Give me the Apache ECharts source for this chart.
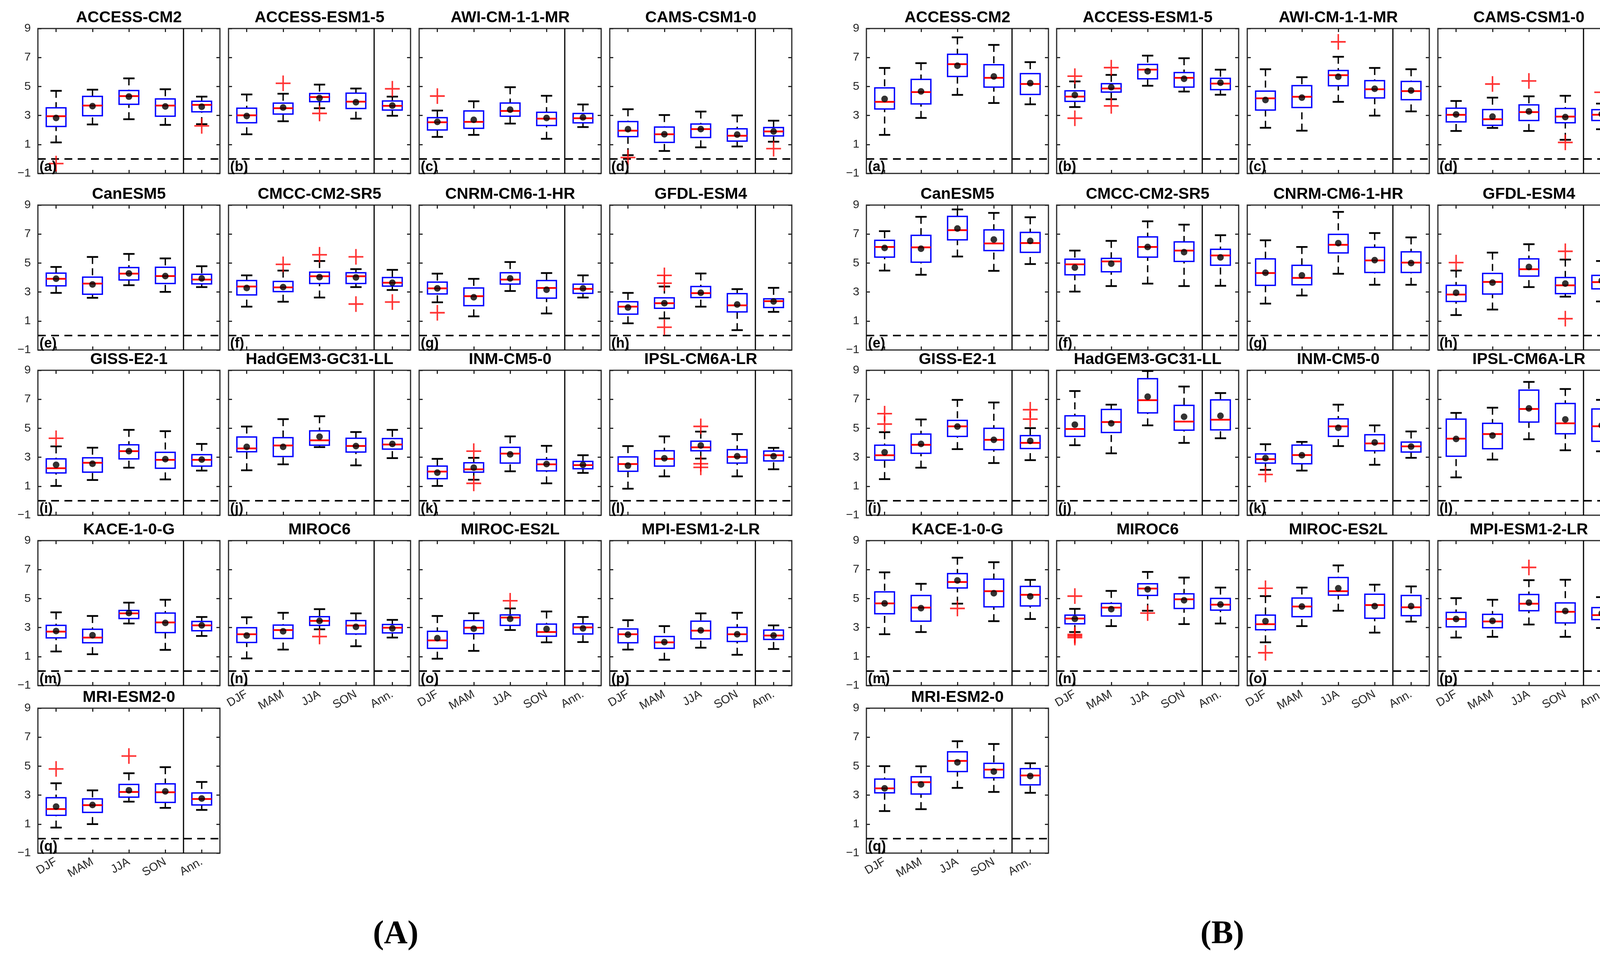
<!DOCTYPE html>
<html><head><meta charset="utf-8">
<script src="https://cdn.jsdelivr.net/npm/echarts@6/dist/echarts.min.js"></script>
<style>html,body{margin:0;padding:0;background:#fff}#chart{width:4175px;height:2450px}</style>
</head><body><div id="chart"></div>
<script>
const seasons = ['DJF', 'MAM', 'JJA', 'SON', 'Ann.'];
const models = ['ACCESS-CM2', 'ACCESS-ESM1-5', 'AWI-CM-1-1-MR', 'CAMS-CSM1-0', 'CanESM5', 'CMCC-CM2-SR5',
  'CNRM-CM6-1-HR', 'GFDL-ESM4', 'GISS-E2-1', 'HadGEM3-GC31-LL', 'INM-CM5-0', 'IPSL-CM6A-LR',
  'KACE-1-0-G', 'MIROC6', 'MIROC-ES2L', 'MPI-ESM1-2-LR', 'MRI-ESM2-0'];
const letters = ['a','b','c','d','e','f','g','h','i','j','k','l','m','n','o','p','q'];
const panelLabels = ['(A)', '(B)'];
const yMin = -1, yMax = 9, yStep = 2;

// ---------- Panel A ----------
const lowA = [[1.14,2.38,2.74,2.35,2.4],[1.7,2.6,3.5,2.78,2.98],[1.52,1.66,2.44,1.39,2.2],[0.26,0.55,0.8,0.86,1.19],
  [2.94,2.6,3.47,3.01,3.34],[1.99,2.33,2.62,3.34,3.14],[2.29,1.32,3.07,1.52,2.62],[0.84,1.18,1.99,0.37,1.63],
  [1.02,1.43,2.28,1.47,2.08],[2.1,2.51,3.7,2.44,2.94],[1.02,1.45,2.03,1.2,1.92],[0.83,1.68,2.91,1.68,2.17],
  [1.35,1.16,3.28,1.46,2.42],[0.87,1.48,2.88,1.71,2.31],[0.85,1.39,2.83,1.98,2.0],[1.48,0.78,1.61,1.12,1.52],
  [0.76,1.0,2.55,2.12,1.98]];
const q1A = [[2.24,2.98,3.77,2.95,3.25],[2.5,3.1,3.95,3.48,3.37],[2.0,2.11,2.95,2.31,2.49],[1.54,1.14,1.48,1.23,1.59],
  [3.43,2.85,3.83,3.59,3.56],[2.8,3.03,3.59,3.59,3.41],[2.87,2.06,3.55,2.58,2.91],[1.47,1.88,2.62,1.63,1.93],
  [1.92,1.97,2.89,2.24,2.39],[3.38,3.05,3.83,3.36,3.56],[1.52,1.97,2.6,2.06,2.21],[2.03,2.39,3.45,2.6,2.75],
  [2.29,1.95,3.62,2.65,2.78],[1.97,2.25,3.15,2.56,2.63],[1.57,2.58,3.15,2.4,2.56],[1.95,1.57,2.22,2.04,2.18],
  [1.61,1.81,2.86,2.5,2.32]];
const medA = [[2.95,3.68,4.34,3.68,3.73],[3.01,3.5,4.27,3.95,3.66],[2.53,2.56,3.31,2.78,2.81],[1.95,1.7,2.06,1.6,1.9],
  [3.91,3.58,4.27,4.1,3.86],[3.38,3.32,4.09,4.09,3.64],[3.25,2.71,3.86,3.28,3.22],[1.99,2.23,2.92,2.08,2.37],
  [2.24,2.62,3.42,2.82,2.82],[3.61,3.81,4.17,3.78,3.88],[2.01,2.17,3.25,2.51,2.46],[2.53,2.89,3.68,3.02,3.14],
  [2.72,2.31,3.98,3.35,3.15],[2.54,2.83,3.46,3.14,2.99],[2.11,2.99,3.69,2.69,3.01],[2.54,1.98,2.79,2.54,2.45],
  [2.04,2.31,3.22,3.2,2.73]];
const q3A = [[3.53,4.32,4.72,4.14,3.98],[3.5,3.85,4.51,4.54,4.0],[2.85,3.31,3.86,3.22,3.14],[2.58,2.2,2.41,2.08,2.17],
  [4.3,4.03,4.69,4.71,4.22],[3.79,3.73,4.37,4.33,4.0],[3.68,3.28,4.33,3.79,3.54],[2.33,2.6,3.38,2.89,2.53],
  [2.89,2.96,3.86,3.34,3.18],[4.4,4.35,4.82,4.31,4.29],[2.39,2.62,3.68,2.85,2.71],[3.02,3.45,4.11,3.52,3.43],
  [3.15,2.88,4.18,4.0,3.42],[2.99,3.17,3.75,3.48,3.21],[2.74,3.48,3.87,3.24,3.26],[2.9,2.38,3.44,3.01,2.83],
  [2.82,2.74,3.74,3.78,3.15]];
const highA = [[4.7,4.78,5.56,4.81,4.3],[4.45,4.5,5.13,4.86,4.3],[3.34,3.98,4.95,4.36,3.76],[3.43,3.03,3.27,3.0,2.64],
  [4.73,5.42,5.63,5.32,4.78],[4.15,4.48,5.14,4.58,4.53],[4.27,3.91,5.07,4.31,4.15],[2.94,3.38,4.28,3.2,3.29],
  [3.75,3.66,4.89,4.8,3.92],[5.12,5.63,5.83,4.74,4.89],[2.89,2.96,4.44,3.79,3.14],[3.77,4.44,4.77,4.6,3.65],
  [4.05,3.8,4.72,4.92,3.73],[3.71,4.02,4.27,3.98,3.53],[3.8,3.99,4.32,4.11,3.73],[3.51,3.1,3.98,4.02,3.15],
  [3.82,3.33,4.51,4.93,3.91]];
const meanA = [[2.83,3.64,4.3,3.62,3.6],[2.96,3.55,4.2,3.91,3.68],[2.56,2.7,3.4,2.83,2.87],[2.05,1.7,2.06,1.68,1.9],
  [3.92,3.52,4.28,4.1,3.94],[3.28,3.34,4.03,4.01,3.64],[3.25,2.64,3.94,3.16,3.25],[1.93,2.23,2.95,2.14,2.35],
  [2.48,2.55,3.42,2.87,2.84],[3.72,3.72,4.42,3.77,3.92],[1.94,2.28,3.2,2.53,2.48],[2.42,2.93,3.81,3.07,3.07],
  [2.76,2.47,4.0,3.32,3.15],[2.45,2.74,3.46,3.05,2.94],[2.27,2.92,3.6,2.9,2.94],[2.51,2.0,2.81,2.54,2.45],
  [2.21,2.32,3.33,3.26,2.77]];
// [model index, season index, value]
const outliersA = [[0,0,-0.32],[0,4,2.28],[1,1,5.22],[1,2,3.14],[1,4,4.84],[2,0,4.34],[3,0,0.1],[3,4,0.71],
  [5,1,4.91],[5,2,5.57],[5,3,5.43],[5,3,2.17],[5,4,2.31],[6,0,1.57],[7,1,4.15],[7,1,3.61],[7,1,0.57],
  [8,0,4.31],[10,1,3.42],[10,1,1.2],[11,2,5.13],[11,2,2.55],[11,2,2.3],[13,2,2.38],[14,2,4.85],
  [16,0,4.81],[16,2,5.7]];

// ---------- Panel B ----------
const lowB = [[1.66,2.83,4.42,3.86,3.77],[3.58,4.12,5.05,4.65,4.43],[2.15,1.95,3.94,2.99,3.28],[1.93,2.14,1.93,1.32,2.05],
  [4.48,4.19,5.45,4.46,4.93],[3.03,3.41,3.58,3.41,3.43],[2.2,2.76,4.26,3.5,3.5],[1.41,1.79,3.34,2.68,2.35],
  [1.49,2.28,3.56,2.6,2.8],[3.83,3.27,5.2,3.99,4.31],[2.13,2.08,3.77,2.48,2.96],[1.61,2.84,4.24,3.48,3.41],
  [2.54,2.69,4.65,3.44,3.59],[2.69,3.1,4.16,3.24,3.28],[1.98,3.1,4.16,2.65,3.41],[2.31,2.36,3.21,2.36,2.97],
  [1.9,2.03,3.5,3.22,3.16]];
const q1B = [[3.45,3.8,5.69,4.96,4.45],[3.97,4.61,5.53,4.96,4.78],[3.37,3.55,5.05,4.21,4.09],[2.56,2.32,2.65,2.5,2.65],
  [5.41,5.06,6.6,5.86,5.74],[4.19,4.4,5.41,5.11,4.85],[3.46,3.5,5.7,4.35,4.35],[2.35,2.86,4.1,2.89,3.22],
  [2.8,3.27,4.44,3.52,3.6],[4.44,4.71,6.06,4.87,4.89],[2.6,2.55,4.44,3.45,3.36],[3.07,3.59,5.43,4.62,4.1],
  [3.95,3.44,5.73,4.43,4.49],[3.26,3.8,5.22,4.32,4.2],[2.85,3.75,5.24,3.64,3.82],[3.05,2.99,4.16,3.32,3.55],
  [3.16,3.08,4.63,4.2,3.71]];
const medB = [[3.94,4.61,6.54,5.6,5.17],[4.3,4.86,6.16,5.6,5.2],[4.18,4.29,5.78,4.81,4.68],[3.04,2.74,3.23,2.92,3.05],
  [6.11,6.08,7.27,6.35,6.38],[4.91,5.11,6.11,5.86,5.52],[4.31,3.97,6.26,5.18,5.03],[2.83,3.7,4.57,3.46,3.68],
  [3.14,3.86,5.13,4.2,3.99],[4.95,5.43,6.94,5.46,5.59],[2.87,3.15,5.13,3.95,3.75],[4.28,4.6,6.33,5.34,5.14],
  [4.67,4.38,6.14,5.51,5.26],[3.62,4.38,5.69,4.95,4.58],[3.23,4.45,5.51,4.55,4.4],[3.59,3.42,4.65,4.09,3.86],
  [3.47,3.89,5.36,4.76,4.36]];
const q3B = [[4.9,5.49,7.22,6.5,5.89],[4.7,5.19,6.52,5.96,5.56],[4.68,5.06,6.1,5.4,5.35],[3.5,3.41,3.73,3.48,3.4],
  [6.57,6.91,8.22,7.29,7.11],[5.27,5.32,6.8,6.46,5.95],[5.29,4.84,6.98,6.08,5.77],[3.46,4.28,5.29,4.0,4.15],
  [3.83,4.6,5.54,5.0,4.49],[5.86,6.3,8.42,6.58,6.96],[3.23,3.84,5.65,4.55,4.05],[5.63,5.34,7.63,6.71,6.33],
  [5.46,5.21,6.72,6.34,5.84],[3.86,4.67,6.02,5.33,5.01],[3.86,5.04,6.45,5.3,5.21],[4.05,3.91,5.28,4.7,4.38],
  [4.11,4.27,5.99,5.19,4.83]];
const highB = [[6.28,6.61,8.39,7.87,6.68],[5.35,5.8,7.13,6.95,6.16],[6.19,5.64,7.05,6.28,6.19],[4.0,4.23,4.32,4.36,3.82],
  [7.2,8.19,8.7,8.46,8.16],[5.86,6.53,7.88,7.65,6.92],[6.57,6.11,8.53,7.07,6.77],[4.48,5.72,6.3,5.24,5.14],
  [4.73,5.61,6.96,6.78,5.01],[7.57,6.63,8.95,7.88,7.43],[3.9,4.06,6.63,5.2,4.78],[6.06,6.42,8.2,7.71,6.96],
  [6.81,6.02,7.82,7.51,6.29],[4.29,5.53,6.84,6.45,5.76],[5.17,5.76,7.29,5.96,5.84],[5.03,4.92,6.27,6.3,5.1],
  [5.0,4.99,6.72,6.53,5.2]];
const meanB = [[4.14,4.66,6.43,5.69,5.23],[4.41,4.95,6.05,5.53,5.26],[4.07,4.23,5.67,4.84,4.72],[3.07,2.92,3.28,2.89,3.1],
  [6.04,5.99,7.38,6.62,6.53],[4.69,4.96,6.11,5.75,5.39],[4.33,4.15,6.37,5.2,5.0],[2.95,3.65,4.73,3.58,3.79],
  [3.34,3.92,5.12,4.2,4.13],[5.25,5.34,7.18,5.79,5.86],[2.94,3.14,5.03,4.02,3.74],[4.26,4.5,6.37,5.61,5.2],
  [4.67,4.34,6.25,5.37,5.15],[3.6,4.27,5.64,4.88,4.59],[3.44,4.45,5.71,4.48,4.48],[3.59,3.46,4.72,4.14,3.98],
  [3.47,3.74,5.26,4.63,4.32]];
const outliersB = [[1,0,5.71],[1,0,2.81],[1,1,6.3],[1,1,3.66],[2,2,8.08],[3,1,5.17],[3,2,5.38],[3,3,1.14],[3,4,4.6],
  [7,0,5.03],[7,3,5.81],[7,3,1.16],[8,0,6.01],[8,0,5.29],[8,4,6.28],[8,4,5.63],[10,0,1.81],[12,2,4.32],
  [13,0,5.17],[13,0,2.52],[13,0,2.42],[13,0,2.31],[13,2,4.0],[14,0,5.71],[14,0,1.26],[15,2,7.15]];

// ---------- layout & style ----------
const panels = [
  {low: lowA, q1: q1A, med: medA, q3: q3A, high: highA, mean: meanA, out: outliersA},
  {low: lowB, q1: q1B, med: medB, q3: q3B, high: highB, mean: meanB, out: outliersB}
];
const colLefts = [[97, 585, 1073, 1561], [2218, 2705, 3193, 3681]];
const rowTops = [73, 525, 948, 1384, 1813];
const PW = 466, PH = 371;
const FONT = 'Liberation Sans';
const AXC = '#262626';
const panelLabelPos = [[1013, 2393], [3129, 2393]];

function renderBox(params, api) {
  const i = api.value(0);
  const lo = api.coord([i, api.value(1)]);
  const q1 = api.coord([i, api.value(2)]);
  const md = api.coord([i, api.value(3)]);
  const q3 = api.coord([i, api.value(4)]);
  const hi = api.coord([i, api.value(5)]);
  const band = api.size([1, 0])[0];
  const bw = band * 0.54, cw = band * 0.31;
  const x = md[0];
  const cs = params.coordSys;
  const ch = [];
  if (params.dataIndex === 0) {
    const y0 = api.coord([0, 0])[1];
    ch.push({type: 'line', shape: {x1: cs.x, y1: y0, x2: cs.x + cs.width, y2: y0},
      style: {stroke: '#000', lineWidth: 4, lineDash: [20, 14]}, z2: 1});
  }
  if (params.dataIndex === 3) {
    const xs = x + band / 2;
    ch.push({type: 'line', shape: {x1: xs, y1: cs.y, x2: xs, y2: cs.y + cs.height},
      style: {stroke: '#000', lineWidth: 3}, z2: 1});
  }
  const wStyle = {stroke: '#000', lineWidth: 3.5, lineDash: [18, 11]};
  ch.push({type: 'line', shape: {x1: x, y1: hi[1], x2: x, y2: q3[1]}, style: wStyle, z2: 2});
  ch.push({type: 'line', shape: {x1: x, y1: lo[1], x2: x, y2: q1[1]}, style: wStyle, z2: 2});
  const cStyle = {stroke: '#000', lineWidth: 4.5};
  ch.push({type: 'line', shape: {x1: x - cw / 2, y1: hi[1], x2: x + cw / 2, y2: hi[1]}, style: cStyle, z2: 3});
  ch.push({type: 'line', shape: {x1: x - cw / 2, y1: lo[1], x2: x + cw / 2, y2: lo[1]}, style: cStyle, z2: 3});
  ch.push({type: 'rect', shape: {x: x - bw / 2, y: q3[1], width: bw, height: q1[1] - q3[1]},
    style: {fill: 'none', stroke: '#0000ff', lineWidth: 3.5}, z2: 4});
  ch.push({type: 'line', shape: {x1: x - bw / 2, y1: md[1], x2: x + bw / 2, y2: md[1]},
    style: {stroke: '#ff0000', lineWidth: 4.5}, z2: 5});
  return {type: 'group', children: ch};
}

const grid = [], xAxis = [], yAxis = [], series = [], graphic = [];
let g = 0;
panels.forEach((P, p) => {
  models.forEach((name, k) => {
    const row = Math.floor(k / 4), col = k % 4;
    const left = colLefts[p][col], top = rowTops[row];
    const showX = (k === 16) || (row === 3 && col > 0);
    const showY = col === 0;
    grid.push({left: left, top: top, width: PW, height: PH, show: true,
      borderColor: AXC, borderWidth: 3, backgroundColor: 'transparent', containLabel: false});
    const tick = {show: true, inside: true, alignWithLabel: true, length: 9, lineStyle: {color: AXC, width: 3}};
    xAxis.push({type: 'category', gridIndex: g, data: seasons, boundaryGap: true, position: 'bottom',
      axisLine: {show: false, onZero: false}, axisTick: tick, splitLine: {show: false},
      axisLabel: {show: showX, rotate: 30, fontSize: 30, color: AXC, fontFamily: FONT, margin: 20, interval: 0}});
    xAxis.push({type: 'category', gridIndex: g, data: seasons, boundaryGap: true, position: 'top',
      axisLine: {show: false, onZero: false}, axisTick: tick, axisLabel: {show: false}, splitLine: {show: false}});
    const ytick = {show: true, inside: true, length: 9, lineStyle: {color: AXC, width: 3}};
    yAxis.push({type: 'value', gridIndex: g, min: yMin, max: yMax, interval: yStep, position: 'left',
      axisLine: {show: false, onZero: false}, axisTick: ytick, splitLine: {show: false},
      axisLabel: {show: showY, fontSize: 30, color: AXC, fontFamily: FONT, margin: 18,
        formatter: v => (v < 0 ? '\u2212' + Math.abs(v) : String(v))}});
    yAxis.push({type: 'value', gridIndex: g, min: yMin, max: yMax, interval: yStep, position: 'right',
      axisLine: {show: false, onZero: false}, axisTick: ytick, axisLabel: {show: false}, splitLine: {show: false}});

    series.push({type: 'custom', xAxisIndex: 2 * g, yAxisIndex: 2 * g, renderItem: renderBox,
      encode: {x: 0, y: [1, 2, 3, 4, 5]}, z: 2, silent: true,
      data: seasons.map((s, i) => [i, P.low[k][i], P.q1[k][i], P.med[k][i], P.q3[k][i], P.high[k][i]])});
    series.push({type: 'scatter', xAxisIndex: 2 * g, yAxisIndex: 2 * g, z: 3, silent: true,
      symbol: 'path://M0,-10L0,10M-10,0L10,0', symbolSize: [38, 40],
      itemStyle: {color: 'none', borderColor: '#ff0000', borderWidth: 4},
      data: P.out.filter(o => o[0] === k).map(o => [o[1], o[2]])});
    series.push({type: 'scatter', xAxisIndex: 2 * g, yAxisIndex: 2 * g, z: 4, silent: true,
      symbol: 'circle', symbolSize: 17, itemStyle: {color: '#000'},
      data: seasons.map((s, i) => [i, P.mean[k][i]])});

    graphic.push({type: 'text', x: left + PW / 2, y: top - 27, z: 100, silent: true,
      style: {text: name, align: 'center', verticalAlign: 'middle', fontSize: 41, fontWeight: 'bold',
        fontFamily: FONT, fill: '#000'}});
    graphic.push({type: 'text', x: left + 4, y: top + PH + 2, z: 100, silent: true,
      style: {text: '(' + letters[k] + ')', align: 'left', verticalAlign: 'bottom', fontSize: 36,
        fontWeight: 'bold', fontFamily: FONT, fill: '#000'}});
    g++;
  });
  graphic.push({type: 'text', x: panelLabelPos[p][0], y: panelLabelPos[p][1], z: 100, silent: true,
    style: {text: panelLabels[p], align: 'center', verticalAlign: 'middle', fontSize: 84, fontWeight: 'bold',
      fontFamily: 'Liberation Serif', fill: '#000'}});
});

const chart = echarts.init(document.getElementById('chart'), null, {renderer: 'canvas', width: 4175, height: 2450});
chart.setOption({animation: false, backgroundColor: '#fff', grid, xAxis, yAxis, series, graphic});
</script></body></html>
